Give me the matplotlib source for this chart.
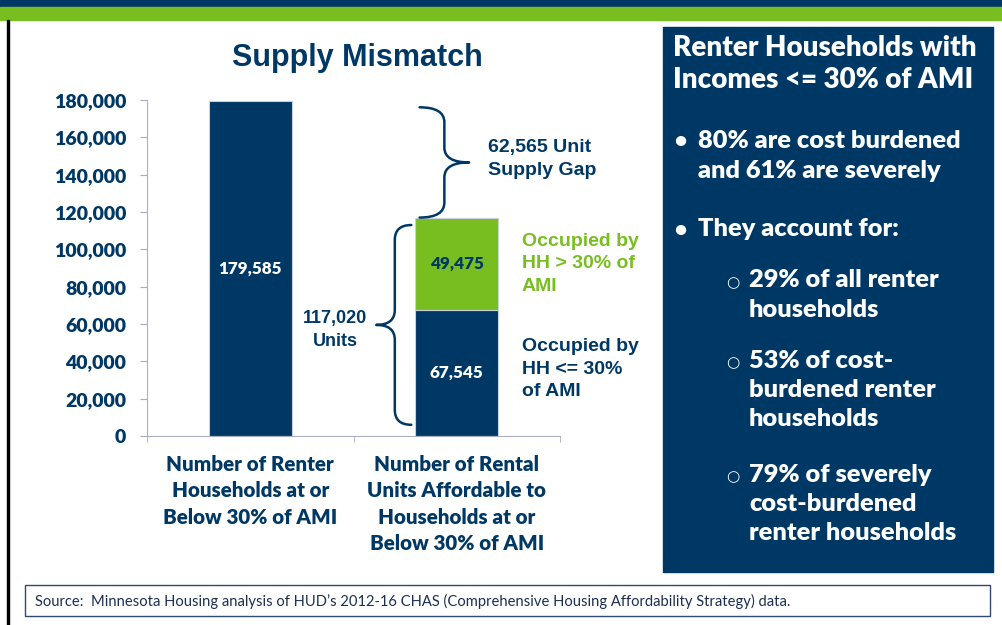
import matplotlib
matplotlib.use("Agg")
import matplotlib.pyplot as plt
from matplotlib.path import Path
from matplotlib.patches import PathPatch, Rectangle

# data
categories = ["Number of Renter\nHouseholds at or\nBelow 30% of AMI",
              "Number of Rental\nUnits Affordable to\nHouseholds at or\nBelow 30% of AMI"]
households = 179585
units_low = 67545     # occupied by HH <= 30% AMI
units_high = 49475    # occupied by HH > 30% AMI
units_total = units_low + units_high
supply_gap = households - units_total
yticks = list(range(0, 180001, 20000))

panel_title = "Renter Households with\nIncomes <= 30% of AMI"
bullets = ["80% are cost burdened\nand 61% are severely", "They account for:"]
sub_bullets = ["29% of all renter\nhouseholds",
               "53% of cost-\nburdened renter\nhouseholds",
               "79% of severely\ncost-burdened\nrenter households"]
source = "Source:  Minnesota Housing analysis of HUD\u2019s 2012-16 CHAS (Comprehensive Housing Affordability Strategy) data."

NAVY = "#003865"
GREEN = "#78be21"
W, H = 1002, 625

def fx(x):
    return x / W

def fy(y):
    return 1 - y / H

fig = plt.figure(figsize=(W / 100, H / 100), dpi=100)

# top bands and left border
fig.patches.append(Rectangle((0, fy(7)), 1, 7 / H, transform=fig.transFigure, color=NAVY, zorder=0))
fig.patches.append(Rectangle((0, fy(20)), 1, 13 / H, transform=fig.transFigure, color=GREEN, zorder=0))
fig.patches.append(Rectangle((fx(7), 0), 2 / W, fy(20), transform=fig.transFigure, color="black", zorder=0))

# chart
ax = fig.add_axes([fx(147), fy(436), (560 - 147) / W, (436 - 100) / H])
bw = 0.4
ax.bar(0, households, width=bw, color=NAVY, edgecolor="#c8d0dc", linewidth=0.8)
ax.bar(1, units_low, width=bw, color=NAVY, edgecolor="#c8d0dc", linewidth=0.8)
ax.bar(1, units_high, bottom=units_low, width=bw, color=GREEN, edgecolor="#c8d0dc", linewidth=0.8)
ax.set_xlim(-0.5, 1.5)
ax.set_ylim(0, 180000)

for s in ["top", "right"]:
    ax.spines[s].set_visible(False)
for s in ["left", "bottom"]:
    ax.spines[s].set_color("#a9aec4")

ax.set_yticks(yticks)
ax.set_yticklabels([f"{v:,}" for v in yticks], fontfamily="Lato", fontweight=800,
                   fontsize=14, color=NAVY)
ax.tick_params(axis="y", length=5, color="#a9aec4", pad=10)

ax.set_xticks([0, 1])
ax.set_xticklabels(categories, fontfamily="Lato", fontweight=800, fontsize=14.8,
                   color=NAVY, linespacing=1.44, va="top")
ax.tick_params(axis="x", which="major", length=0, pad=14)
ax.set_xticks([-0.5, 0.5, 1.5], minor=True)
ax.tick_params(axis="x", which="minor", length=4.5, color="#a9aec4")

# value labels
lbl = dict(fontfamily="Lato", fontweight=800, fontsize=12.3, ha="center", va="center")
ax.text(0, households / 2, f"{households:,}", color="white", **lbl)
ax.text(1, units_low / 2, f"{units_low:,}", color="white", **lbl)
ax.text(1, units_low + units_high / 2, f"{units_high:,}", color=NAVY, **lbl)


def brace(x_arm, x_spine, x_tip, y0, y1, r):
    ym = (y0 + y1) / 2
    verts = [(x_arm, y1), (x_spine, y1), (x_spine, y1 - r),
             (x_spine, ym + r), (x_spine, ym), (x_tip, ym),
             (x_spine, ym), (x_spine, ym - r),
             (x_spine, y0 + r), (x_spine, y0), (x_arm, y0)]
    codes = [Path.MOVETO, Path.CURVE3, Path.CURVE3, Path.LINETO, Path.CURVE3, Path.CURVE3,
             Path.CURVE3, Path.CURVE3, Path.LINETO, Path.CURVE3, Path.CURVE3]
    ax.add_patch(PathPatch(Path(verts, codes), fill=False, edgecolor=NAVY, lw=1.8,
                           clip_on=False, capstyle="round", joinstyle="round"))


left_edge = 1 - bw / 2
brace(left_edge + 0.02, 1 - 0.06, 1 + 0.06, units_total, households - 3500, 8000)
brace(left_edge - 0.02, left_edge - 0.10, left_edge - 0.19, 6000, units_total - 4000, 8000)

ann = dict(fontfamily="Liberation Sans", fontweight="bold", fontsize=14, clip_on=False,
           linespacing=1.42)
ax.text(1.15, units_total + supply_gap / 2, f"{supply_gap:,} Unit\nSupply Gap",
        color=NAVY, ha="left", va="center", **ann)
ax.text(0.41, units_total / 2 - 1700, f"{units_total:,}\nUnits", color=NAVY,
        ha="center", va="center", fontfamily="Liberation Sans", fontweight="bold",
        fontsize=13, linespacing=1.45)
ax.text(1.316, units_low + units_high / 2, "Occupied by\nHH > 30% of\nAMI",
        color=GREEN, ha="left", va="center", **ann)
ax.text(1.316, units_low / 2 + 2000, "Occupied by\nHH <= 30%\nof AMI",
        color=NAVY, ha="left", va="center", **ann)

fig.text(fx(357), fy(58), "Supply Mismatch", ha="center", va="center",
         fontfamily="Liberation Sans", fontweight="bold", fontsize=22, color=NAVY)

# right panel
fig.patches.append(Rectangle((fx(663), fy(572)), (993 - 663) / W, (572 - 27) / H,
                             transform=fig.transFigure, color=NAVY, zorder=0))
pt = dict(fontfamily="Lato", fontweight=800, color="white", ha="left", va="center")
fig.text(fx(673), fy(64), panel_title, fontsize=20, linespacing=1.27, **pt)
for txt, yc, yfirst in [(bullets[0], 156, 140), (bullets[1], 229, 229)]:
    fig.text(fx(698), fy(yc), txt, fontsize=18.3, linespacing=1.48, **pt)
    fig.text(fx(674), fy(yfirst), "\u2022", fontsize=15, **pt)
for txt, yc, yfirst in [(sub_bullets[0], 295, 280), (sub_bullets[1], 390, 360),
                        (sub_bullets[2], 504, 474)]:
    fig.text(fx(749), fy(yc), txt, fontsize=18.3, linespacing=1.41, **pt)
    fig.text(fx(726), fy(yfirst + 3), "\u25cb", fontsize=11, color="white",
             fontfamily="DejaVu Sans", ha="left", va="center")

# source box
fig.patches.append(Rectangle((fx(25), fy(616)), (990 - 25) / W, (616 - 585) / H,
                             transform=fig.transFigure, facecolor="white",
                             edgecolor="#2e4a72", lw=1, zorder=0))
fig.text(fx(35), fy(601), source, fontfamily="Lato", fontsize=10.6, color="#1c2f52",
         ha="left", va="center")

fig.savefig("out.png", dpi=100)
